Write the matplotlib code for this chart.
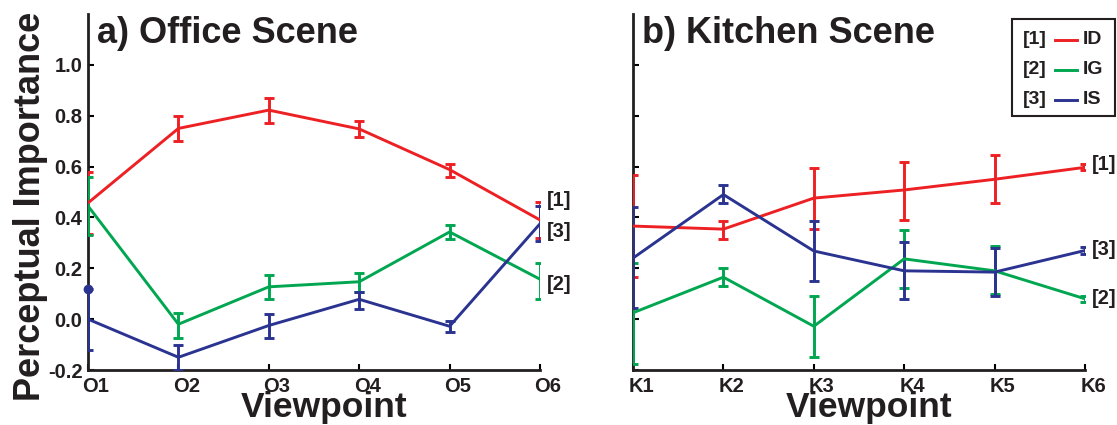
import matplotlib
matplotlib.use("Agg")
import matplotlib.pyplot as plt
from matplotlib.lines import Line2D
from matplotlib.patches import Rectangle
from matplotlib.transforms import ScaledTranslation

plt.rcParams['font.family'] = ['Liberation Sans', 'DejaVu Sans']
plt.rcParams['font.weight'] = 'bold'

office_labels = ["O1", "O2", "O3", "O4", "O5", "O6"]
kitchen_labels = ["K1", "K2", "K3", "K4", "K5", "K6"]
series_names = ["ID", "IG", "IS"]
series_tags = ["[1]", "[2]", "[3]"]
colors = ["#ED2024", "#00A650", "#2B3391"]

# Office scene: means, lower and upper error bounds
office_mean = {
    "ID": [0.457, 0.750, 0.822, 0.748, 0.588, 0.390],
    "IG": [0.445, -0.020, 0.127, 0.147, 0.343, 0.157],
    "IS": [0.000, -0.150, -0.025, 0.078, -0.028, 0.375],
}
office_lo = {
    "ID": [0.335, 0.700, 0.772, 0.715, 0.558, 0.320],
    "IG": [0.330, -0.075, 0.080, 0.107, 0.315, 0.080],
    "IS": [-0.120, -0.200, -0.075, 0.040, -0.050, 0.307],
}
office_hi = {
    "ID": [0.578, 0.800, 0.870, 0.780, 0.612, 0.460],
    "IG": [0.560, 0.025, 0.172, 0.183, 0.370, 0.222],
    "IS": [0.120, -0.100, 0.022, 0.108, -0.008, 0.445],
}
office_tag_y = {"ID": 0.465, "IG": 0.138, "IS": 0.345}

kitchen_mean = {
    "ID": [0.366, 0.354, 0.476, 0.508, 0.550, 0.597],
    "IG": [0.025, 0.165, -0.028, 0.237, 0.190, 0.080],
    "IS": [0.240, 0.490, 0.268, 0.190, 0.185, 0.270],
}
kitchen_lo = {
    "ID": [0.165, 0.316, 0.355, 0.390, 0.457, 0.585],
    "IG": [-0.175, 0.130, -0.150, 0.123, 0.097, 0.068],
    "IS": [0.045, 0.455, 0.150, 0.078, 0.090, 0.255],
}
kitchen_hi = {
    "ID": [0.567, 0.386, 0.595, 0.618, 0.645, 0.609],
    "IG": [0.220, 0.200, 0.090, 0.350, 0.287, 0.092],
    "IS": [0.440, 0.527, 0.385, 0.305, 0.280, 0.285],
}
kitchen_tag_y = {"ID": 0.610, "IG": 0.080, "IS": 0.275}

yticks = [-0.2, 0.0, 0.2, 0.4, 0.6, 0.8, 1.0]

TXT = "#231F20"

fig = plt.figure(figsize=(11.17, 4.25), dpi=100)
ax1 = fig.add_axes([88 / 1117, 55 / 425, 452 / 1117, 356 / 425])
ax2 = fig.add_axes([633 / 1117, 55 / 425, 452 / 1117, 356 / 425])


def draw_panel(ax, labels, mean, lo, hi, tag_y, title, show_ylabels):
    x = list(range(len(labels)))
    for name, c in zip(series_names, colors):
        m = mean[name]
        yerr = [[mi - l for mi, l in zip(m, lo[name])],
                [h - mi for mi, h in zip(m, hi[name])]]
        ax.errorbar(x, m, yerr=yerr, color=c, lw=2.1, elinewidth=2.1,
                    capsize=3.8, capthick=2.1, zorder=3, clip_on=True)
    ax.set_xlim(0, len(labels) - 1)
    ax.set_ylim(-0.2, 1.2)
    ax.set_xticks(x)
    ax.set_xticklabels(labels, fontsize=14.5, fontweight='bold', color=TXT)
    ax.set_yticks(yticks)
    if show_ylabels:
        ax.set_yticklabels([f"{v:.1f}" for v in yticks], fontsize=14.5,
                           fontweight='bold', color=TXT)
    else:
        ax.set_yticklabels([])
    ax.tick_params(direction='in', length=4, width=1.5, pad=4)
    ax.tick_params(axis='x', pad=5)
    shift = ScaledTranslation(8 / 100, 0, fig.dpi_scale_trans)
    for lab in ax.xaxis.get_majorticklabels():
        lab.set_transform(lab.get_transform() + shift)
    for s in ["top", "right"]:
        ax.spines[s].set_visible(False)
    for s in ["left", "bottom"]:
        ax.spines[s].set_linewidth(2.0)
        ax.spines[s].set_color(TXT)
    ax.set_xlabel("Viewpoint", fontsize=25.5, fontweight='bold', color=TXT)
    ax.xaxis.set_label_coords(0.5 + 10 / 452, -47 / 356)
    ax.xaxis.label.set_va('baseline')
    ax.text(0.02, 0.918, title, transform=ax.transAxes, fontsize=26,
            fontweight='bold', va='baseline', ha='left', color=TXT)
    for name, tag in zip(series_names, series_tags):
        ax.annotate(tag, xy=(len(labels) - 1, tag_y[name]), xytext=(5, 0),
                    textcoords='offset points', fontsize=14.5,
                    fontweight='bold', va='center', ha='left',
                    annotation_clip=False, color=TXT)


draw_panel(ax1, office_labels, office_mean, office_lo, office_hi,
           office_tag_y, "a) Office Scene", True)
draw_panel(ax2, kitchen_labels, kitchen_mean, kitchen_lo, kitchen_hi,
           kitchen_tag_y, "b) Kitchen Scene", False)

# blue dot on the clipped cap at O1
ax1.plot([0], [office_hi["IS"][0]], 'o', color=colors[2], ms=6,
         zorder=4, clip_on=False)

ax1.set_ylabel("Perceptual Importance", fontsize=26, fontweight='bold',
               color=TXT)
ax1.yaxis.set_label_coords(-40 / 452, 0.5 - 14 / 356)

# Legend box drawn in figure coordinates
lx0, ly0, lw, lh = 1012 / 1117, (425 - 116) / 425, 103 / 1117, 97 / 425
fig.patches.append(Rectangle((lx0, ly0), lw, lh, transform=fig.transFigure,
                             fill=False, ec=TXT, lw=1.5))
for i, (tag, name, c) in enumerate(zip(series_tags, series_names, colors)):
    yy = (425 - (40 + i * 30)) / 425
    fig.text(1023 / 1117, yy, tag, fontsize=14, fontweight='bold',
             va='center', ha='left', color=TXT)
    fig.lines.append(Line2D([1055 / 1117, 1077 / 1117], [yy, yy],
                            transform=fig.transFigure, color=c, lw=2.1))
    fig.text(1083 / 1117, yy, name, fontsize=14, fontweight='bold',
             va='center', ha='left', color=TXT)

fig.savefig("out.png", dpi=100)
